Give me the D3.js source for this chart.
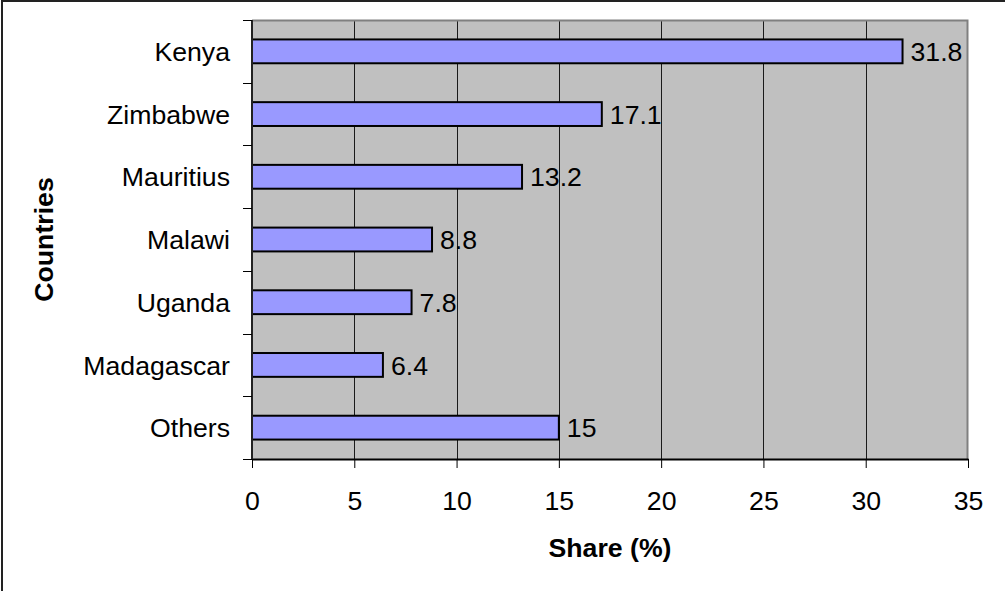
<!DOCTYPE html>
<html>
<head>
<meta charset="utf-8">
<script src="https://cdn.jsdelivr.net/npm/d3@7"></script>
<style>
  html, body { margin: 0; padding: 0; background: #ffffff; }
  svg { display: block; font-family: Arial, "Liberation Sans", sans-serif; }
</style>
</head>
<body>
<svg id="chart" width="1005" height="591"></svg>
<script>
// Share of exports by country (%)
const countries = ["Kenya", "Zimbabwe", "Mauritius", "Malawi", "Uganda", "Madagascar", "Others"];
const shares = [31.8, 17.1, 13.2, 8.8, 7.8, 6.4, 15];
const xTicks = [0, 5, 10, 15, 20, 25, 30, 35];

const rows = countries.map((c, i) => ({ country: c, share: shares[i] }));

const svg = d3.select("#chart");
const W = 1005, H = 591;
const FS = 26.67;
const plot = { left: 252, top: 20, right: 968, bottom: 459 };

// outer chart frame
svg.append("rect")
  .attr("x", 2).attr("y", 1)
  .attr("width", W + 10).attr("height", H + 10)
  .attr("fill", "#ffffff")
  .attr("stroke", "#222").attr("stroke-width", 2);

const x = d3.scaleLinear().domain([0, 35]).range([plot.left, plot.right]);
const y = d3.scaleBand()
  .domain(countries)
  .range([plot.top, plot.bottom])
  .paddingInner(0.62)
  .paddingOuter(0.31);

// plot area background
svg.append("rect")
  .attr("x", plot.left).attr("y", plot.top)
  .attr("width", plot.right - plot.left).attr("height", plot.bottom - plot.top)
  .attr("fill", "#c0c0c0");

// vertical gridlines
svg.append("g")
  .selectAll("line")
  .data(xTicks.slice(1, -1))
  .join("line")
  .attr("x1", d => Math.round(x(d)) + 0.5).attr("x2", d => Math.round(x(d)) + 0.5)
  .attr("y1", plot.top).attr("y2", plot.bottom)
  .attr("stroke", "#1a1a1a").attr("stroke-width", 1);

// top and right border of plot area
svg.append("path")
  .attr("d", `M${plot.left},${plot.top + 0.5}H${plot.right - 0.5}V${plot.bottom}`)
  .attr("fill", "none")
  .attr("stroke", "#808080").attr("stroke-width", 2);

// bars
svg.append("g")
  .selectAll("rect")
  .data(rows)
  .join("rect")
  .attr("x", x(0))
  .attr("y", d => y(d.country))
  .attr("width", d => x(d.share) - x(0))
  .attr("height", y.bandwidth())
  .attr("fill", "#9999ff")
  .attr("stroke", "#000").attr("stroke-width", 2);

// value labels
svg.append("g")
  .selectAll("text")
  .data(rows)
  .join("text")
  .attr("x", d => x(d.share) + 8)
  .attr("y", d => y(d.country) + y.bandwidth() / 2)
  .attr("dy", "0.36em")
  .attr("font-size", FS)
  .attr("fill", "#000")
  .text(d => d.share);

// x axis
const xAxis = svg.append("g")
  .attr("transform", `translate(0,${plot.bottom})`)
  .call(d3.axisBottom(x).tickValues(xTicks).tickSize(9).tickPadding(23).tickSizeOuter(0));
xAxis.select(".domain").attr("stroke", "#000").attr("stroke-width", 2);
xAxis.selectAll(".tick line").attr("stroke", "#000").attr("stroke-width", 1);
xAxis.selectAll(".tick text").attr("font-size", FS).attr("fill", "#000")
  .attr("font-family", "Arial, 'Liberation Sans', sans-serif");

// y axis: line, boundary ticks between categories, category labels
const step = y.step();
const bounds = d3.range(countries.length + 1).map(i => plot.top + i * step);
const yAxis = svg.append("g");
yAxis.append("line")
  .attr("x1", plot.left).attr("x2", plot.left)
  .attr("y1", plot.top).attr("y2", plot.bottom)
  .attr("stroke", "#222").attr("stroke-width", 2);
yAxis.selectAll(".btick")
  .data(bounds)
  .join("line")
  .attr("class", "btick")
  .attr("x1", plot.left - 9).attr("x2", plot.left)
  .attr("y1", d => Math.round(d) + 0.5).attr("y2", d => Math.round(d) + 0.5)
  .attr("stroke", "#000").attr("stroke-width", 1);
yAxis.selectAll(".clabel")
  .data(countries)
  .join("text")
  .attr("class", "clabel")
  .attr("x", plot.left - 22)
  .attr("y", d => y(d) + y.bandwidth() / 2)
  .attr("dy", "0.36em")
  .attr("text-anchor", "end")
  .attr("font-size", FS)
  .attr("fill", "#000")
  .text(d => d);

// axis titles
svg.append("text")
  .attr("x", (plot.left + plot.right) / 2)
  .attr("y", 557)
  .attr("text-anchor", "middle")
  .attr("font-size", FS).attr("font-weight", "bold")
  .text("Share (%)");

svg.append("text")
  .attr("transform", `translate(53,${(plot.top + plot.bottom) / 2}) rotate(-90)`)
  .attr("text-anchor", "middle")
  .attr("font-size", FS).attr("font-weight", "bold")
  .text("Countries");
</script>
</body>
</html>
